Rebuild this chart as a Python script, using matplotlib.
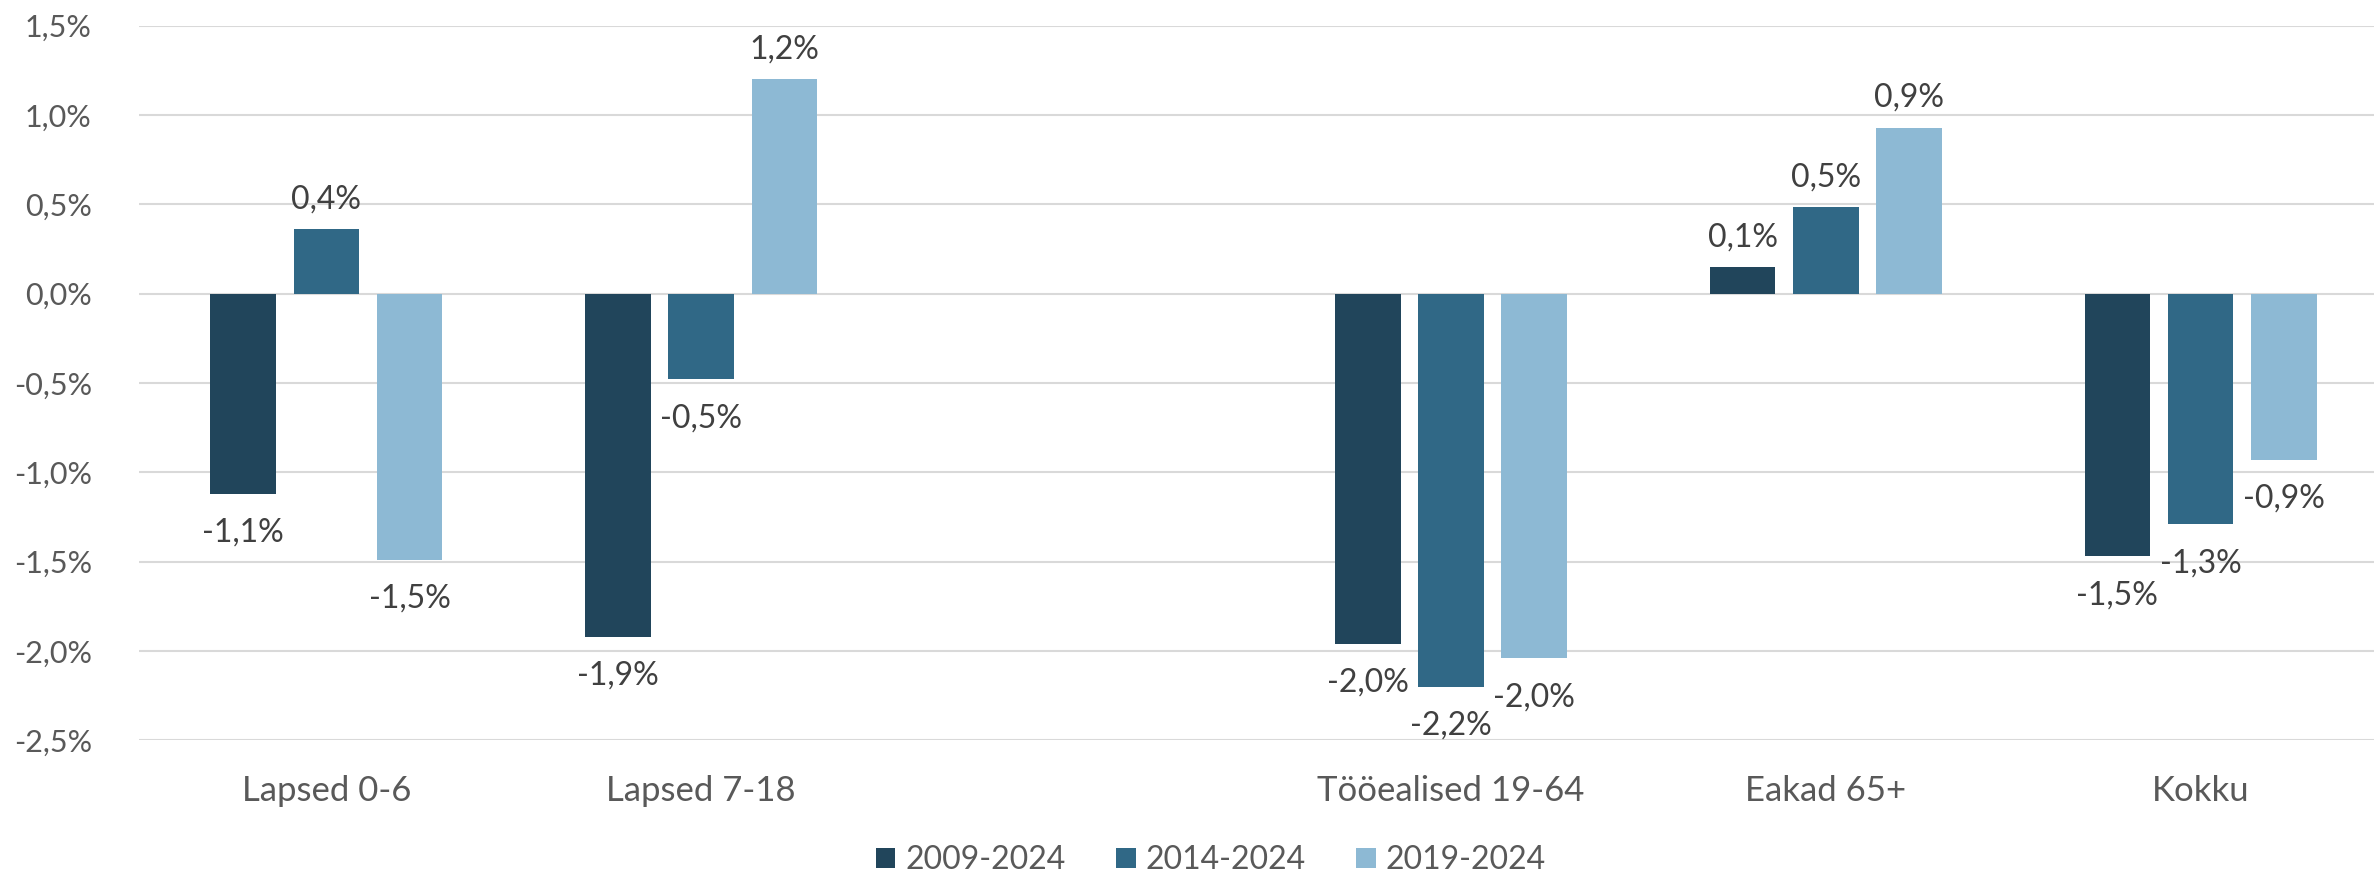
import numpy as np
import matplotlib.pyplot as plt

# Data (third slot is an empty category in the original chart)
categories = ['Lapsed 0-6', 'Lapsed 7-18', '', 'Tööealised 19-64', 'Eakad 65+', 'Kokku']
series = ['2009-2024', '2014-2024', '2019-2024']
v2009 = [-1.12, -1.92, np.nan, -1.96, 0.148, -1.47]
v2014 = [0.36, -0.48, np.nan, -2.20, 0.485, -1.29]
v2019 = [-1.49, 1.20, np.nan, -2.04, 0.93, -0.93]
colors = ['#21455B', '#306886', '#8DB9D4']
yticks = [-2.5, -2.0, -1.5, -1.0, -0.5, 0.0, 0.5, 1.0, 1.5]

plt.rcParams['font.family'] = ['Lato', 'DejaVu Sans']

W, H = 2374, 876
fig = plt.figure(figsize=(W / 100, H / 100), dpi=100)
ax = fig.add_axes([139 / W, 1 - 740.4 / H, 2249 / W, (740.4 - 25.7) / H])

x = np.arange(len(categories))
step = 0.222
width = 0.175
for i, (name, vals) in enumerate(zip(series, [v2009, v2014, v2019])):
    xs = x + (i - 1) * step
    ax.bar(xs, vals, width, color=colors[i], label=name, zorder=3)
    for xi, v in zip(xs, vals):
        if np.isnan(v):
            continue
        txt = f"{v:.1f}".replace('.', ',') + '%'
        off = 30 if v >= 0 else -39
        ax.annotate(txt, (xi, v), xytext=(0, off), textcoords='offset pixels',
                    ha='center', va='center', fontsize=23, color='#404040')

ax.set_xlim(-0.5, len(categories) - 0.5)
ax.set_ylim(-2.5, 1.5)
ax.set_yticks(yticks)
ax.set_yticklabels([f"{t:.1f}".replace('.', ',') + '%' for t in yticks])
ax.set_xticks(x)
ax.set_xticklabels(categories)
ax.tick_params(axis='y', length=0, pad=34, labelsize=22, labelcolor='#595959')
ax.tick_params(axis='x', length=0, pad=25, labelsize=25, labelcolor='#595959')
ax.grid(axis='y', color='#D9D9D9', linewidth=1.5, zorder=0)
for s in ax.spines.values():
    s.set_visible(False)

fig.legend(loc='center', bbox_to_anchor=(0.51, 0.018), ncol=3, frameon=False,
           fontsize=23, handlelength=0.6, handleheight=0.6, handletextpad=0.3,
           columnspacing=1.6, labelcolor='#595959')

fig.savefig('out.png', dpi=100)
